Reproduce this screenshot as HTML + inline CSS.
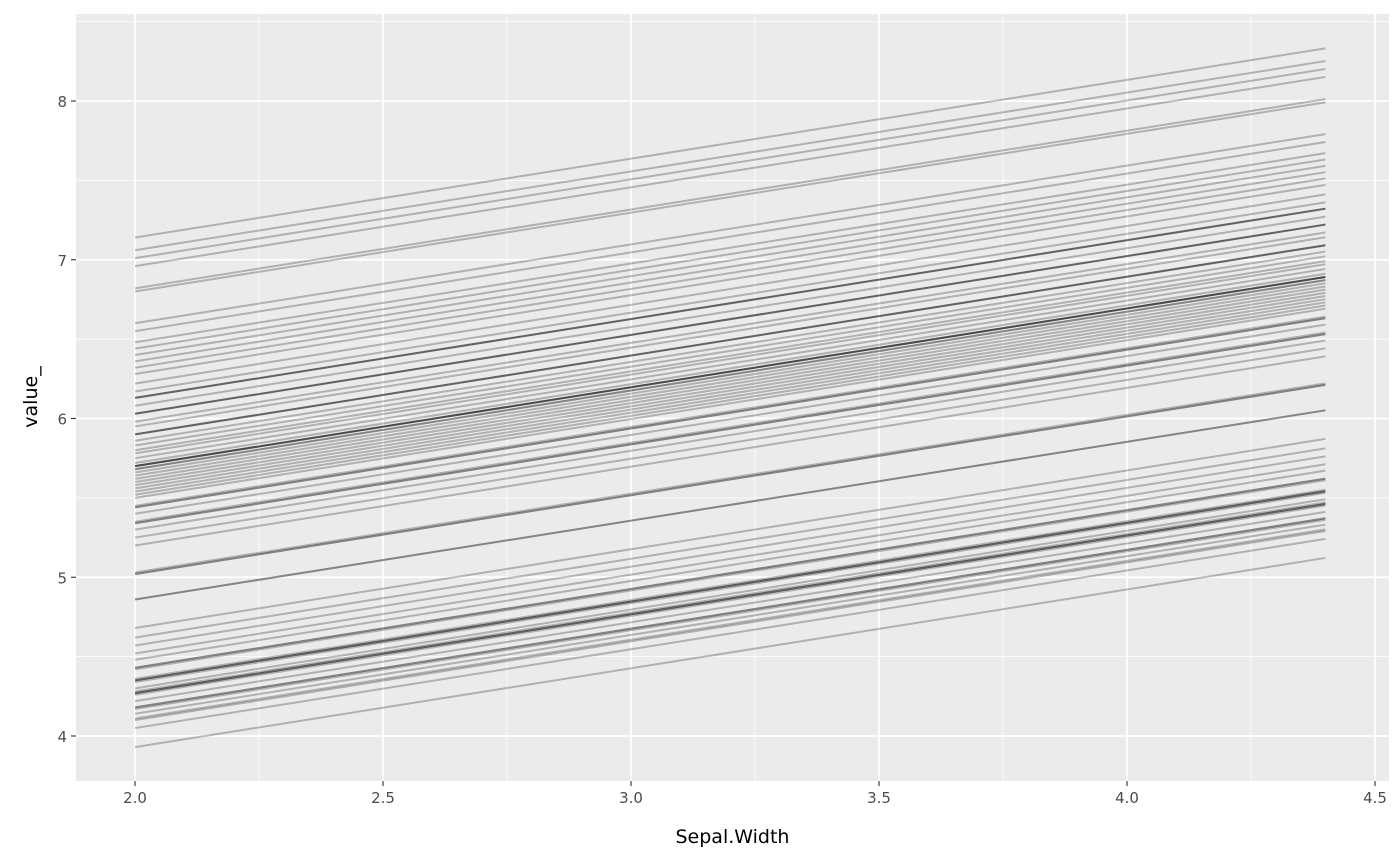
<!DOCTYPE html>
<html><head><meta charset="utf-8"><style>
html,body{margin:0;padding:0;background:#fff;}
svg{display:block;font-family:"DejaVu Sans","Liberation Sans",sans-serif;}
</style></head><body>
<svg id="chart" width="1400" height="866"></svg>
<script>
const startValues=[7.14,7.06,7.01,6.96,6.82,6.80,6.60,6.55,6.48,6.44,6.40,6.36,6.32,6.28,6.22,6.17,6.13,6.13,6.13,6.08,6.03,6.03,6.03,5.98,5.95,5.90,5.90,5.90,5.86,5.83,5.80,5.78,5.75,5.72,5.70,5.70,5.70,5.70,5.68,5.68,5.66,5.64,5.62,5.60,5.58,5.56,5.54,5.52,5.50,5.45,5.44,5.44,5.40,5.35,5.34,5.34,5.30,5.25,5.20,5.03,5.02,5.02,4.86,4.86,4.68,4.62,4.57,4.52,4.48,4.43,4.43,4.42,4.36,4.35,4.35,4.35,4.34,4.30,4.28,4.27,4.27,4.27,4.26,4.22,4.18,4.18,4.17,4.14,4.11,4.10,4.05,3.93];
const slopeValues=[0.4965];
const xRange=[2.0,4.4];
const xTicks=[2.0,2.5,3.0,3.5,4.0,4.5];
const xTickLabels=["2.0","2.5","3.0","3.5","4.0","4.5"];
const yTicks=[4,5,6,7,8];
const yTickLabels=["4","5","6","7","8"];

const NS="http://www.w3.org/2000/svg";
const svg=document.getElementById('chart');
const P={l:76,r:1389,t:14,b:781};
const xs=v=>135+(v-2.0)*496;
const ys=v=>736-(v-4)*158.75;
function mk(tag,attrs,parent){const e=document.createElementNS(NS,tag);for(const k in attrs)e.setAttribute(k,attrs[k]);(parent||svg).appendChild(e);return e;}

const panel=mk('rect',{x:P.l,y:P.t,width:P.r-P.l,height:P.b-P.t,fill:'#ebebeb'});



const grid=mk('g',{});


for(let i=0;i<xTicks.length-1;i++){const v=(xTicks[i]+xTicks[i+1])/2;mk('line',{x1:xs(v),x2:xs(v),y1:P.t,y2:P.b,stroke:'#fff','stroke-width':0.8},grid);}
const yMinor=[3.5,4.5,5.5,6.5,7.5,8.5];
yMinor.forEach(v=>{const y=ys(v);if(y>P.t&&y<P.b)mk('line',{x1:P.l,x2:P.r,y1:y,y2:y,stroke:'#fff','stroke-width':0.8},grid);});
xTicks.forEach(v=>mk('line',{x1:xs(v),x2:xs(v),y1:P.t,y2:P.b,stroke:'#fff','stroke-width':1.8},grid));
yTicks.forEach(v=>mk('line',{x1:P.l,x2:P.r,y1:ys(v),y2:ys(v),stroke:'#fff','stroke-width':1.8},grid));

const lines=mk('g',{});


startValues.forEach((s,i)=>{
  const e=s+slopeValues[0]*(xRange[1]-xRange[0]);
  const ln=mk('line',{x1:xs(xRange[0]),y1:ys(s),x2:xs(xRange[1]),y2:ys(e),stroke:'#000','stroke-opacity':0.25,'stroke-width':2},lines);
  
  
});

const xa=mk('g',{});


xTicks.forEach((v,i)=>{
  mk('line',{x1:xs(v),x2:xs(v),y1:P.b,y2:P.b+5,stroke:'#333','stroke-width':1.1},xa);
  const t=mk('text',{x:xs(v),y:P.b+22,'text-anchor':'middle','font-size':15,fill:'#4d4d4d'},xa);
  t.textContent=xTickLabels[i];
  
  
});
const ya=mk('g',{});


yTicks.forEach((v,i)=>{
  mk('line',{x1:P.l-5,x2:P.l,y1:ys(v),y2:ys(v),stroke:'#333','stroke-width':1.1},ya);
  const t=mk('text',{x:P.l-9,y:ys(v)+6,'text-anchor':'end','font-size':15,fill:'#4d4d4d'},ya);
  t.textContent=yTickLabels[i];
  
  
});
const xt=mk('text',{x:(P.l+P.r)/2,y:843,'text-anchor':'middle','font-size':19,fill:'#000'});
xt.textContent='Sepal.Width';


const yt=mk('text',{x:0,y:0,'text-anchor':'middle','font-size':19,fill:'#000',transform:'translate(37,397) rotate(-90)'});
yt.textContent='value_';


</script>
</body></html>
